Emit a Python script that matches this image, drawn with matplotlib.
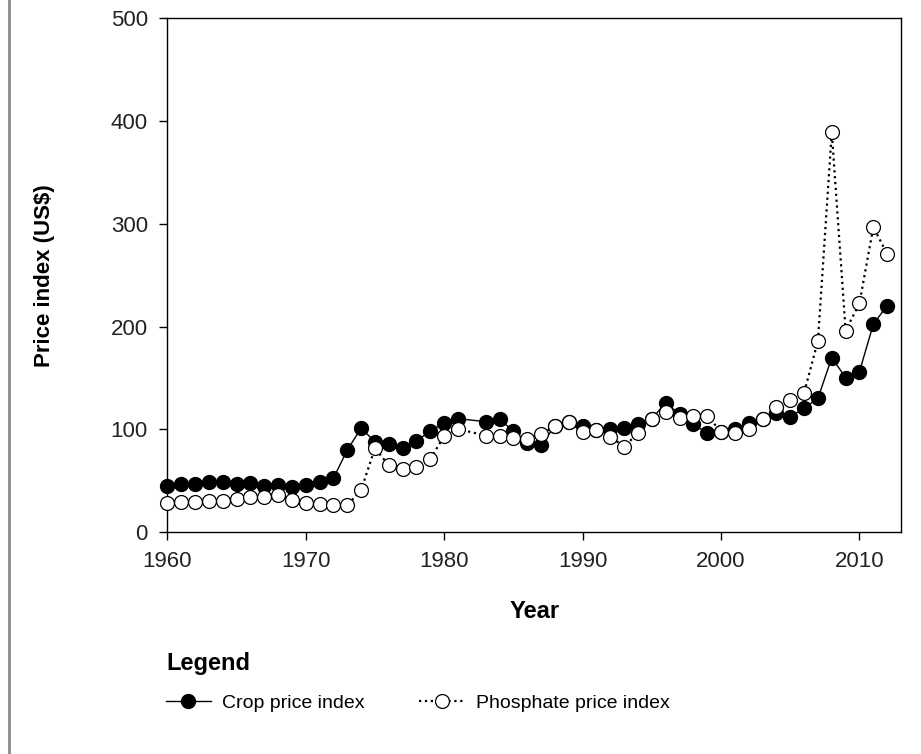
import matplotlib
matplotlib.use("Agg")
import matplotlib.pyplot as plt
from matplotlib.lines import Line2D

plt.rcParams["font.family"] = ["Liberation Sans", "DejaVu Sans"]

years = [1960, 1961, 1962, 1963, 1964, 1965, 1966, 1967, 1968, 1969,
         1970, 1971, 1972, 1973, 1974, 1975, 1976, 1977, 1978, 1979,
         1980, 1981, 1983, 1984, 1985, 1986, 1987, 1988, 1989,
         1990, 1991, 1992, 1993, 1994, 1995, 1996, 1997, 1998, 1999,
         2000, 2001, 2002, 2003, 2004, 2005, 2006, 2007, 2008, 2009,
         2010, 2011, 2012]

crop = [44.8, 46.4, 46.7, 48.4, 48.4, 46.7, 48.0, 45.1, 45.5, 43.8,
        45.5, 48.7, 52.3, 79.8, 101.0, 87.9, 85.7, 82.1, 88.6, 98.3,
        106.4, 110.3, 107.4, 109.7, 98.3, 87.0, 84.7, 103.0, 107.4,
        103.5, 99.3, 100.3, 101.0, 104.9, 110.0, 125.9, 114.6, 105.2, 96.1,
        97.0, 100.0, 106.4, 110.0, 116.2, 112.3, 120.4, 130.2, 169.7, 150.2,
        156.1, 202.2, 220.4]

phosphate = [28.5, 29.2, 29.2, 30.2, 30.2, 32.1, 33.8, 34.4, 35.7, 31.5,
             27.9, 27.3, 26.3, 26.0, 40.9, 81.5, 64.9, 61.7, 63.0, 71.1,
             93.5, 100.3, 93.8, 93.8, 91.8, 90.3, 95.1, 103.5, 106.8,
             97.7, 99.3, 92.8, 83.1, 96.1, 109.7, 117.1, 110.7, 113.0, 113.0,
             97.7, 96.1, 100.0, 109.7, 121.4, 128.5, 135.6, 186.0, 389.2, 196.0,
             222.7, 296.7, 270.7]

W, H = 921, 754
fig = plt.figure(figsize=(W / 100, H / 100), dpi=100)
ax = fig.add_axes([167.3 / W, 1 - 532 / H, (901 - 167.3) / W, (532 - 18.3) / H])

ax.plot(years, crop, color="black", linewidth=1.0, marker="o",
        markersize=10, markerfacecolor="black", markeredgecolor="black",
        label="Crop price index", zorder=3, clip_on=False)
ax.plot(years, phosphate, color="black", linewidth=1.6, linestyle=":",
        marker="o", markersize=10, markerfacecolor="white",
        markeredgecolor="black", markeredgewidth=0.9,
        label="Phosphate price index", zorder=4, clip_on=False)

ax.set_xlim(1960, 2013)
ax.set_ylim(0, 500)
ax.set_xticks([1960, 1970, 1980, 1990, 2000, 2010])
ax.set_yticks([0, 100, 200, 300, 400, 500])
ax.tick_params(direction="out", length=6, width=1, labelsize=16,
               labelcolor="#222222")
ax.tick_params(axis="x", pad=8)
ax.tick_params(axis="y", pad=8)
for s in ax.spines.values():
    s.set_linewidth(1.0)

ax.set_xlabel("Year", fontsize=17, fontweight="bold", labelpad=20)
ax.set_ylabel("Price index (US$)", fontsize=16, fontweight="bold", labelpad=40)

# legend below the plot
leg = fig.legend(loc="upper left", bbox_to_anchor=(166 / W, 1 - 652 / H),
                 ncol=2, frameon=False, fontsize=14, title="Legend",
                 title_fontproperties={"size": 17, "weight": "bold"},
                 alignment="left", handlelength=2.3, handletextpad=0.6,
                 columnspacing=2.8, labelspacing=1.0,
                 borderpad=0, borderaxespad=0)

# grey frame line at the left edge
fig.add_artist(Line2D([8.5 / W, 8.5 / W], [0, 1], color="#8c8c8c",
                      linewidth=2, transform=fig.transFigure))

fig.savefig("out.png", dpi=100)
